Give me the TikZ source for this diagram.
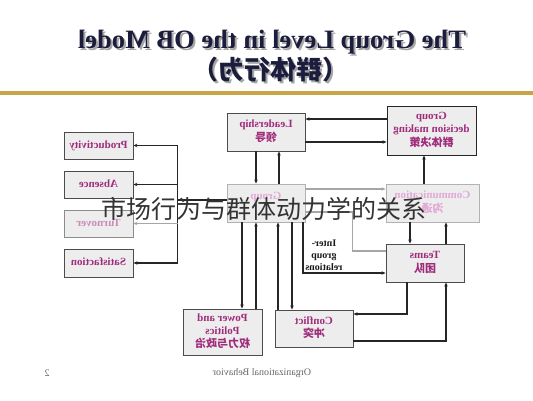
\documentclass[tikz,border=0pt]{standalone}
\usepackage{fontspec}
\usepackage{graphicx}
\setmainfont{Liberation Serif}
\newfontfamily\cjk{Noto Sans CJK SC}
\usetikzlibrary{arrows.meta}

\definecolor{boxtext}{HTML}{A02C7C}
\definecolor{fadetext}{HTML}{E2A8D6}
\definecolor{boxfill}{HTML}{EDEDED}
\definecolor{rulegold}{HTML}{C9A548}
\definecolor{titleblue}{HTML}{1C1C3C}

% the slide is shown mirrored
\newcommand{\mir}[1]{\reflectbox{\begin{tabular}{@{}c@{}}#1\end{tabular}}}

\begin{document}
\begin{tikzpicture}[
  x=1pt, y=-1pt,
  box/.style={draw=black!70, fill=boxfill, line width=0.9pt, inner sep=1pt,
    font=\fontsize{11}{13}\selectfont\bfseries, text=boxtext},
  fadebox/.style={box, draw=black!30, text=fadetext},
  link/.style={line width=1.1pt, draw=black!85},
  fadelink/.style={link, draw=black!35},
  arr/.style={link, -{Stealth[length=4pt,width=3.5pt]}},
  fadearr/.style={arr, draw=black!35},
  lbl/.style={font=\fontsize{10}{12}\selectfont\bfseries, text=black!90, inner sep=0pt}
]
\useasboundingbox (0,0) rectangle (533,400);

% title
\node[font=\fontsize{26.5}{28}\selectfont\bfseries, text=black!35] (titleshadow) at (274,44) {\reflectbox{The Group Level in the OB Model}};
\node[font=\fontsize{26.5}{28}\selectfont\bfseries, text=titleblue] (title) at (272,42) {\reflectbox{The Group Level in the OB Model}};
\node[font=\cjk\fontsize{26}{28}\selectfont\bfseries, text=black!35] (subshadow) at (272,72) {\reflectbox{（群体行为）}};
\node[font=\cjk\fontsize{26}{28}\selectfont\bfseries, text=titleblue] (sub) at (270,70) {\reflectbox{（群体行为）}};
\draw[rulegold, line width=3.5pt] (0,93) -- (533,93);

% outcomes
\node[box, minimum width=69pt, minimum height=27pt] (prod) at (98.5,145.5) {\mir{Productivity}};
\node[box, minimum width=69pt, minimum height=27pt] (absence) at (98.5,184.5) {\mir{Absence}};
\node[fadebox, draw=black!45, text=boxtext!55, minimum width=69pt, minimum height=27pt] (turn) at (98.5,223.5) {\mir{Turnover}};
\node[box, minimum width=69pt, minimum height=28pt] (sat) at (98.5,263) {\mir{Satisfaction}};

% group level boxes
\node[box, minimum width=78pt, minimum height=38pt] (lead) at (266,132) {\mir{Leadership\\{\cjk 领导}}};
\node[box, draw=black!85, minimum width=89pt, minimum height=49pt] (gdm) at (431.5,130.5) {\mir{Group\\decision making\\{\cjk 群体决策}}};
\node[fadebox, minimum width=78pt, minimum height=38pt] (group) at (266,203) {\mir{Group\\\phantom{X}}};
\node[fadebox, minimum width=93pt, minimum height=38pt] (comm) at (432.5,203) {\mir{Communication\\{\cjk 沟通}}};
\node[box, minimum width=78pt, minimum height=38pt] (teams) at (425,263) {\mir{Teams\\{\cjk 团队}}};
\node[box, minimum width=79pt, minimum height=46pt] (power) at (222.5,332) {\mir{Power and\\Politics\\{\cjk 权力与政治}}};
\node[box, minimum width=78pt, minimum height=37pt] (conflict) at (314,328.5) {\mir{Conflict\\{\cjk 冲突}}};
\node[lbl] (igr) at (324,256) {\mir{Inter-\\group\\relations}};

% links
\draw[arr] ([yshift=11.5pt]gdm.west) -- ([yshift=13pt]lead.east);
\draw[arr] ([yshift=-10pt]lead.east) -- ([yshift=-11.5pt]gdm.west);
\draw[arr] ([xshift=-10pt]lead.south) -- ([xshift=-10pt]group.north);
\draw[arr] ([xshift=13pt]group.north) -- ([xshift=13pt]lead.south);
\draw[arr] ([xshift=-8.5pt]comm.north) -- ([xshift=-7.5pt]gdm.south);
\draw[fadearr] ([yshift=14pt]group.east) -- ([yshift=14pt]comm.west);
\draw[fadelink] ([yshift=-9pt]group.east) -- ++(47,0) |- ([yshift=12pt]teams.west);
\draw[arr] ([xshift=-22.5pt]comm.south) -- ([xshift=-15pt]teams.north);
\draw[arr] ([xshift=21pt]teams.north) -- ([xshift=13.5pt]comm.south);
\draw[arr] ([xshift=37pt]group.south) |- ([yshift=-10pt]teams.west);
\draw[arr] ([xshift=-18pt]teams.south) |- ([yshift=14.5pt]conflict.east);
\draw[arr] ([yshift=-12.5pt]conflict.east) -| ([xshift=21pt]teams.south);
\draw[arr] ([xshift=-24pt]group.south) -- ([xshift=19.5pt]power.north);
\draw[arr] ([xshift=33.5pt]power.north) -- ([xshift=-10pt]group.south);
\draw[arr] ([xshift=-36pt]conflict.north) -- ([xshift=12pt]group.south);
\draw[arr] ([xshift=26pt]group.south) -- ([xshift=-22pt]conflict.north);

% bus to the outcomes
\draw[link] ([yshift=3pt]group.west) -- ++(-49,0) coordinate (bus);
\draw[link] (bus |- prod.east) -- (bus |- sat.east);
\foreach \o in {prod,absence,sat}
  \draw[arr] (bus |- \o.east) -- (\o.east);
\draw[fadearr] (bus |- turn.east) -- (turn.east);

% footer
\node[font=\fontsize{10}{12}\selectfont, text=black!60] (foot) at (262,373) {\reflectbox{Organizational Behavior}};
\node[font=\fontsize{10}{12}\selectfont, text=black!60] (page) at (47,373) {\reflectbox{2}};

% overlay caption
\node[font=\cjk\fontsize{25}{28}\selectfont, text=black!80] (mark) at (264,209) {市场行为与群体动力学的关系};
\end{tikzpicture}
\end{document}
